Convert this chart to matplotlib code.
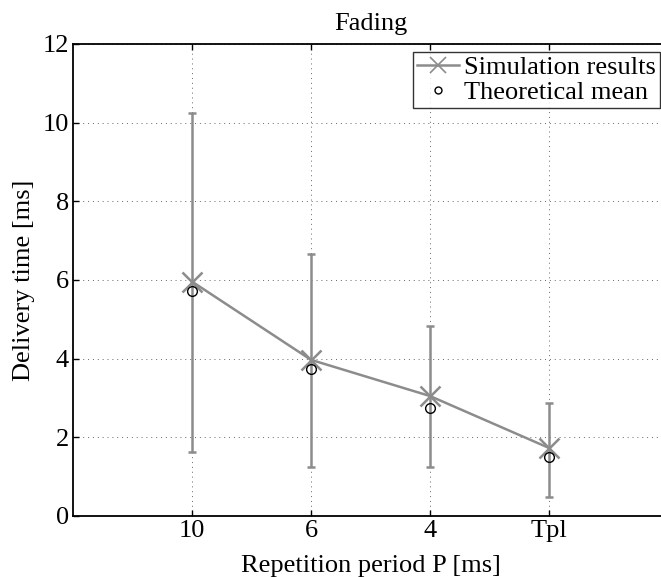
import matplotlib
matplotlib.use("Agg")
import matplotlib.pyplot as plt
from matplotlib.lines import Line2D

plt.rcParams['font.family'] = ['Liberation Serif', 'DejaVu Serif']

# delivery time per repetition period
periods = ['10', '6', '4', 'Tpl']
sim_mean = [5.96, 3.97, 3.05, 1.73]
sim_low = [1.63, 1.25, 1.25, 0.49]
sim_high = [10.24, 6.66, 4.84, 2.88]
theory_mean = [5.73, 3.74, 2.75, 1.50]

xs = list(range(1, len(periods) + 1))
err_low = [m - lo for m, lo in zip(sim_mean, sim_low)]
err_high = [hi - m for m, hi in zip(sim_mean, sim_high)]

gray = '#8c8c8c'
fs = 19

fig = plt.figure(figsize=(6.61, 5.77), dpi=100)
ax = fig.add_axes([73 / 661, 1 - 516 / 577, 595 / 661, 472 / 577])

ax.errorbar(xs, sim_mean, yerr=[err_low, err_high], color=gray, lw=1.8,
            marker='x', ms=14, mew=1.8, capsize=3, capthick=1.8,
            elinewidth=1.8, zorder=3)
ax.plot(xs, theory_mean, 'o', mfc='none', mec='black', ms=7, mew=1,
        ls='none', zorder=4)

ax.set_xlim(0, 5)
ax.set_ylim(0, 12)
ax.set_xticks(xs)
ax.set_xticklabels(periods)
ax.set_yticks(range(0, 13, 2))

ax.grid(True, ls=(0, (1, 4)), color='#666666', lw=0.7)
ax.tick_params(direction='in', top=True, right=True, labelsize=fs,
               length=4, width=1, pad=3)
for s in ax.spines.values():
    s.set_linewidth(1.3)

ax.set_title('Fading', fontsize=fs, pad=10)
ax.set_xlabel('Repetition period P [ms]', fontsize=fs, labelpad=9)
ax.set_ylabel('Delivery time [ms]', fontsize=fs, labelpad=5)

handles = [
    Line2D([], [], color=gray, lw=1.8, marker='x', ms=12, mew=1.2),
    Line2D([], [], ls='none', marker='o', mfc='none', mec='black', ms=5, mew=1),
]
leg = ax.legend(handles, ['Simulation results', 'Theoretical mean'],
                loc='upper right', fontsize=fs, frameon=True, fancybox=False,
                borderaxespad=0.3, handlelength=1.6, handletextpad=0.2,
                borderpad=0.15, labelspacing=0.05, edgecolor='black')
leg.get_frame().set_linewidth(1.0)

fig.savefig('out.png', dpi=100)
